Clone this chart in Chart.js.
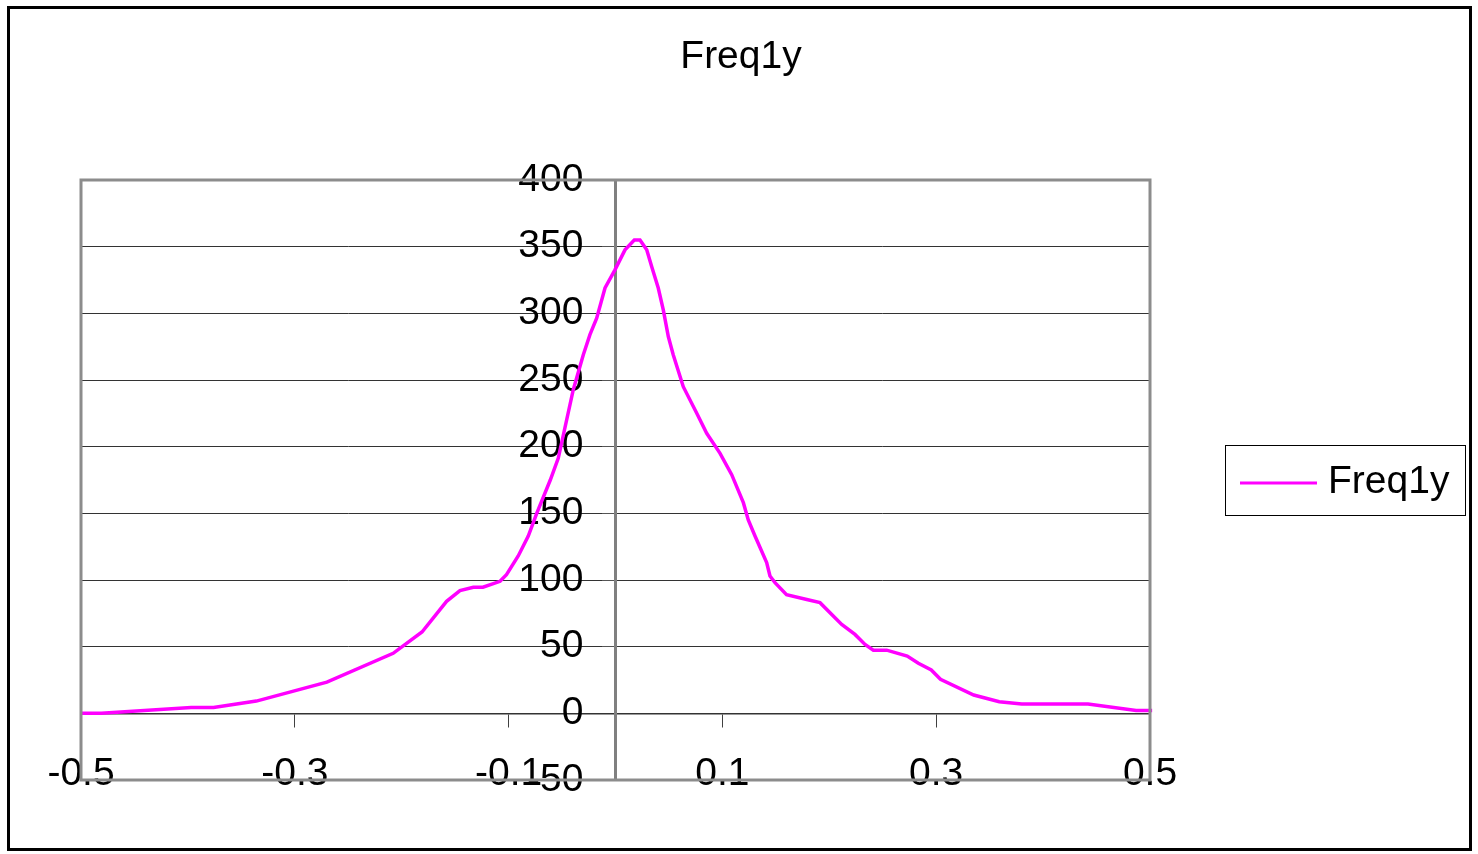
<!DOCTYPE html>
<html>
<head>
<meta charset="utf-8">
<title>Freq1y</title>
<script src="https://cdn.jsdelivr.net/npm/chart.js@4/dist/chart.umd.min.js"></script>
<style>
  html, body { margin: 0; padding: 0; background: #fff; }
  #wrap { position: relative; width: 1478px; height: 854px; }
</style>
</head>
<body>
<div id="wrap"><canvas id="freq-chart" width="1478" height="854"></canvas></div>
<script>
// ── Series data ──────────────────────────────────────────────
const seriesName = 'Freq1y';
const xValues = [
  -0.5, -0.481, -0.397, -0.376, -0.336, -0.270, -0.208, -0.181, -0.158, -0.1455,
  -0.133, -0.124, -0.108, -0.102, -0.091, -0.0816, -0.0737, -0.061, -0.0535, -0.0395,
  -0.0301, -0.0239, -0.0176, -0.0098, -0.0005, 0.0089, 0.0176, 0.0229, 0.0292, 0.0339,
  0.040, 0.0447, 0.0494, 0.054, 0.0634, 0.076, 0.0853, 0.0978, 0.1087, 0.1196,
  0.1242, 0.1305, 0.1414, 0.1445, 0.1492, 0.160, 0.1789, 0.1913, 0.2116, 0.224,
  0.2334, 0.2412, 0.2537, 0.2729, 0.2833, 0.2954, 0.304, 0.3351, 0.359, 0.380,
  0.442, 0.487, 0.502
];
const yValues = [
  0, 0, 4.3, 4.3, 9.2, 23.4, 45, 61, 84, 92,
  94.6, 94.6, 99, 104, 118, 133, 150, 175, 191.5, 242.7,
  269, 284, 296.4, 319, 332.6, 347.6, 355, 355, 347.6, 335,
  319, 302.6, 282.6, 269, 245, 225, 210, 195, 179, 158,
  145, 133, 113, 103, 98, 89, 85.4, 83, 66.7, 59.2,
  51.7, 47.4, 47.4, 42.9, 37.5, 32.5, 25.5, 13.7, 8.7, 7,
  7, 2.2, 2.2
];

// ── Axis ticks ───────────────────────────────────────────────
const xTicks = [-0.5, -0.3, -0.1, 0.1, 0.3, 0.5];
const yTicks = [-50, 0, 50, 100, 150, 200, 250, 300, 350, 400];

const FONT = 'Liberation Sans, Arial, Helvetica, sans-serif';
const tickFont = { family: FONT, size: 39 };

// ── Title, outer frame, plot border and boxed legend ─────────
const framePlugin = {
  id: 'frame',
  afterDraw(chart) {
    const { ctx, chartArea: a } = chart;
    const ds = chart.data.datasets[0];
    ctx.save();
    // plot area border
    ctx.strokeStyle = '#8c8c8c';
    ctx.lineWidth = 3;
    ctx.strokeRect(a.left, a.top, a.right - a.left, a.bottom - a.top);
    // outer frame
    ctx.strokeStyle = '#000';
    ctx.strokeRect(8.5, 7.5, 1462, 842);
    // title, centred on the whole frame
    ctx.fillStyle = '#000';
    ctx.font = '39px ' + FONT;
    ctx.textBaseline = 'alphabetic';
    ctx.textAlign = 'center';
    ctx.fillText(seriesName, 741, 68);
    // legend
    ctx.lineWidth = 1;
    ctx.strokeRect(1225.5, 445.5, 240, 70);
    ctx.strokeStyle = ds.borderColor;
    ctx.lineWidth = 3;
    ctx.beginPath();
    ctx.moveTo(1240, 483);
    ctx.lineTo(1317, 483);
    ctx.stroke();
    ctx.textAlign = 'left';
    ctx.fillText(ds.label, 1328, 493);
    ctx.restore();
  }
};

new Chart(document.getElementById('freq-chart'), {
  type: 'scatter',
  data: {
    datasets: [{
      label: seriesName,
      data: xValues.map((x, i) => ({ x, y: yValues[i] })),
      showLine: true,
      borderColor: '#ff00ff',
      borderWidth: 3.5,
      pointRadius: 0,
      tension: 0,
      clip: 6,
    }]
  },
  options: {
    responsive: false,
    animation: false,
    devicePixelRatio: 1,
    layout: { padding: { left: 81, right: 328, bottom: 74, top: 180 } },
    plugins: {
      legend: { display: false },
      tooltip: { enabled: false },
      title: { display: false },
    },
    scales: {
      x: {
        type: 'linear',
        position: { y: 0 },
        min: -0.5,
        max: 0.5,
        afterBuildTicks: s => { s.ticks = xTicks.map(v => ({ value: v })); },
        grid: { drawOnChartArea: false, tickLength: 13, tickColor: '#404040', lineWidth: 1 },
        border: { color: '#333', width: 1.5 },
        ticks: {
          autoSkip: false,
          maxRotation: 0,
          padding: 25,
          color: '#000',
          font: tickFont,
          callback: v => String(v),
        },
      },
      // value axis line, gridlines and tick marks crossing at x = 0
      y: {
        type: 'linear',
        position: { x: 0 },
        min: -50,
        max: 400,
        afterBuildTicks: s => { s.ticks = yTicks.map(v => ({ value: v })); },
        grid: { color: '#333', lineWidth: 1, tickLength: 12, tickColor: '#555' },
        border: { color: '#808080', width: 3 },
        ticks: { display: false },
      },
      // value labels, set just left of the tick marks
      yLabels: {
        type: 'linear',
        axis: 'y',
        position: { x: -0.03 },
        min: -50,
        max: 400,
        afterBuildTicks: s => { s.ticks = yTicks.map(v => ({ value: v })); },
        grid: { display: false },
        border: { display: false },
        ticks: {
          autoSkip: false,
          color: '#000',
          font: tickFont,
        },
      },
    },
  },
  plugins: [framePlugin],
});
</script>
</body>
</html>
